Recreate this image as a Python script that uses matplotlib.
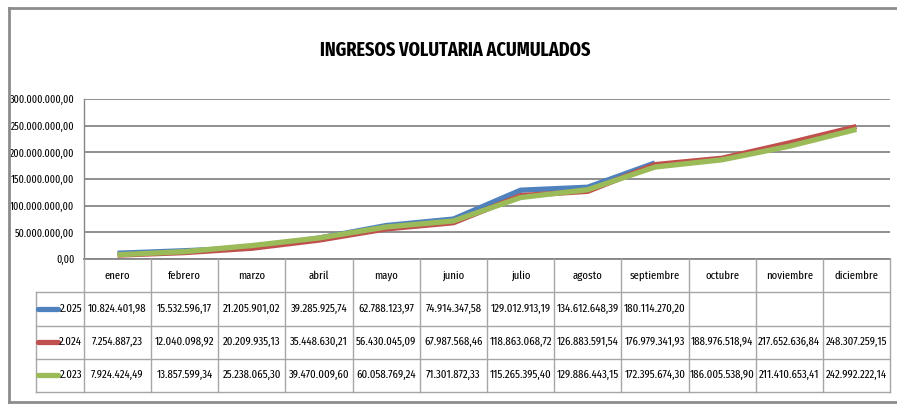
import matplotlib
matplotlib.use("Agg")
import matplotlib.pyplot as plt
from matplotlib.lines import Line2D

plt.rcParams['font.family'] = ['Fira Sans Extra Condensed', 'DejaVu Sans']

# datos
meses = ['enero', 'febrero', 'marzo', 'abril', 'mayo', 'junio', 'julio',
         'agosto', 'septiembre', 'octubre', 'noviembre', 'diciembre']
etiquetas = ['2.025', '2.024', '2.023']
v2025 = [10824401.98, 15532596.17, 21205901.02, 39285925.74, 62788123.97,
         74914347.58, 129012913.19, 134612648.39, 180114270.20]
v2024 = [7254887.23, 12040098.92, 20209935.13, 35448630.21, 56430045.09,
         67987568.46, 118863068.72, 126883591.54, 176979341.93, 188976518.94,
         217652636.84, 248307259.15]
v2023 = [7924424.49, 13857599.34, 25238065.30, 39470009.60, 60058769.24,
         71301872.33, 115265395.40, 129886443.15, 172395674.30, 186005538.90,
         211410653.41, 242992222.14]
y_ticks = [0, 50e6, 100e6, 150e6, 200e6, 250e6, 300e6]
titulo = 'INGRESOS VOLUTARIA ACUMULADOS'

series = [v2025, v2024, v2023]
colores = ['#4F81BD', '#C0504D', '#9BBB59']
fs = 8.4


def fmt(v):
    # formato espanol: 1.234.567,89
    s = f"{v:,.2f}"
    return s.replace(',', 'X').replace('.', ',').replace('X', '.')


W, H = 897, 405
fig = plt.figure(figsize=(W / 100, H / 100), dpi=100)

# marco exterior
marco = '#8C8C8C'
for xs, ys in [([9, 900], [8, 8]), ([9, 9], [8, 402]), ([9, 900], [402, 402])]:
    fig.add_artist(Line2D([x / W for x in xs], [1 - y / H for y in ys],
                          color=marco, lw=2.0, transform=fig.transFigure))

fig.text(455 / W, 1 - 50 / H, titulo, ha='center', va='center',
         fontsize=14.2, fontweight='bold')

# grafico de lineas
x0, x1 = 84, 890
ax = fig.add_axes([x0 / W, 1 - 259 / H, (x1 - x0) / W, (259 - 99) / H])
for vals, c in zip(series, colores):
    ax.plot(range(len(vals)), vals, color=c, lw=3.8, solid_capstyle='butt')
ax.set_xlim(-0.5, len(meses) - 0.5)
ax.set_ylim(y_ticks[0], y_ticks[-1])
ax.set_yticks(y_ticks)
ax.set_yticklabels([fmt(t) for t in y_ticks], fontsize=7.8)
ax.set_xticks([])
ax.tick_params(axis='y', length=0, pad=7)
ax.grid(axis='y', color='#868686', lw=1.3)
ax.set_axisbelow(True)
for s in ['top', 'right', 'bottom']:
    ax.spines[s].set_visible(False)
ax.spines['left'].set_color('#868686')
ax.spines['left'].set_linewidth(1.0)

# tabla de datos
tax = fig.add_axes([x0 / W, 1 - 392 / H, (x1 - x0) / W, (392 - 259) / H])
n = len(meses)
tax.set_xlim(-0.5, n - 0.5)
tax.set_ylim(4, 0)
tax.axis('off')
borde = '#A6A6A6'
xl = -0.5 - 48 / ((x1 - x0) / n)
tax.plot([-0.5, n - 0.5], [0, 0], color='#868686', lw=1.3, clip_on=False)
for r in range(1, 5):
    tax.plot([xl, n - 0.5], [r, r], color=borde, lw=1.0, clip_on=False)
for k in range(n + 1):
    tax.plot([k - 0.5, k - 0.5], [0, 4], color=borde, lw=1.0, clip_on=False)
tax.plot([xl, xl], [1, 4], color=borde, lw=1.0, clip_on=False)

for i, m in enumerate(meses):
    tax.text(i, 0.5, m, ha='center', va='center', fontsize=fs)
for r, (vals, c, lab) in enumerate(zip(series, colores, etiquetas), start=1):
    tax.plot([xl + 0.03, xl + 0.33], [r + 0.5, r + 0.5], color=c, lw=3.8,
             clip_on=False, solid_capstyle='round')
    tax.text(-0.53, r + 0.5, lab, ha='right', va='center', fontsize=fs)
    for i, v in enumerate(vals):
        tax.text(i, r + 0.5, fmt(v), ha='center', va='center', fontsize=fs)

fig.savefig('out.png', dpi=100)
